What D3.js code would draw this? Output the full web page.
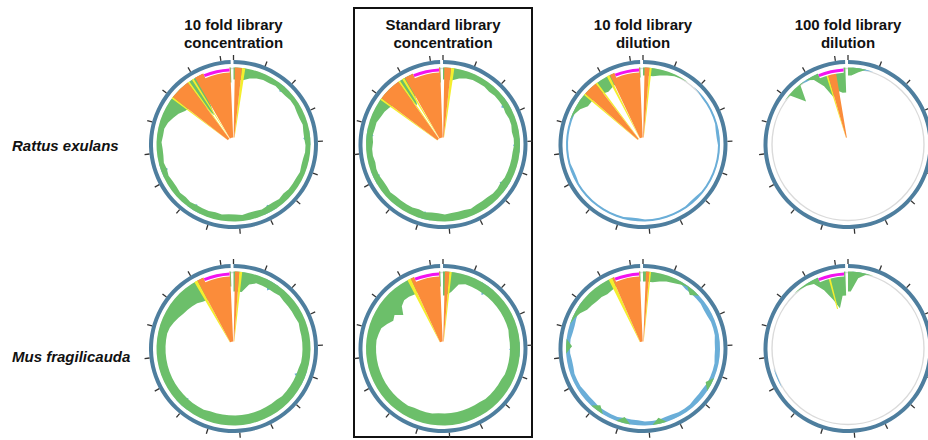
<!DOCTYPE html>
<html>
<head>
<meta charset="utf-8">
<script src="https://cdn.jsdelivr.net/npm/d3@7"></script>
<style>
body { margin: 0; background: #fff; }
svg { display: block; }
.title { font-family: "Liberation Sans", Arial, sans-serif; font-weight: bold; font-size: 15px; fill: #111; }
.species { font-family: "Liberation Sans", Arial, sans-serif; font-weight: bold; font-style: italic; font-size: 15px; fill: #111; }
</style>
</head>
<body>
<svg id="chart" width="928" height="440"></svg>
<script>
// genome is read as ~16.3 kb, coverage binned every 250 bp
const genomeLength = 16300;
const binSize = 250;
const tickPositions = [0,1000,2000,3000,4000,5000,6000,7000,8000,9000,10000,11000,12000,13000,14000,15000,16000];

const columnTitles = [["10 fold library","concentration"], ["Standard library","concentration"], ["10 fold library","dilution"], ["100 fold library","dilution"]];
const speciesNames = ["Rattus exulans", "Mus fragilicauda"];

// relative coverage depth per bin (0 = none, 70 = reaches centre)
const greenRat10c = [12,12,9,7,6,6,5,6,6,5, 5,6,6,5,6,6,5,5,6,6, 5,6,6,6,7,6,7,7,6,7, 7,6,7,7,6,7,6,6,6,5, 6,5,6,6,5,6,5,6,6,5, 6,6,8,11,14,18,20,20,20,42, 20,15,15,15,15];
const blueRat10c  = [0,0,0,0,0,0,0,7,0,0, 0,0,0,0,0,7,0,0,0,0, 0,0,0,0,0,0,0,8,0,0, 0,0,0,0,0,0,0,0,7,0, 0,0,0,0,0,7,0,0,0,0, 0,0,0,0,0,0,0,0,0,0, 0,0,0,0,0];
const greenRatStd = [12,12,9,7,6,6,6,7,6,6, 6,7,6,6,7,6,6,7,7,7, 7,7,8,7,7,8,8,8,7,8, 8,8,7,8,8,7,8,7,7,7, 7,6,7,7,6,6,7,6,6,7, 6,7,7,9,10,12,15,15,15,30, 15,15,15,15,15];
const blueRatStd  = [0,0,0,0,0,0,0,0,0,0, 8,0,0,0,0,0,7,0,0,0, 0,0,9,0,0,0,0,0,0,0, 0,0,0,0,0,8,0,0,0,0, 0,0,0,0,7,0,0,0,0,0, 7,0,0,0,0,0,0,0,0,0, 0,0,0,0,0];
const greenRat10d = [8,8,6,4,2,1,0,0,0,0, 0,0,0,0,0,0,0,0,0,0, 0,0,0,0,0,0,0,0,0,0, 0,0,0,0,0,0,0,0,0,0, 0,0,0,0,0,0,0,0,0,0, 0,0,0,2,5,10,10,10,12,14, 12,10,10,10,10];
const blueRat10d  = [0,0,0,0,0,0,0,0,1,2, 2,2,2,2,3,3,2,2,2,2, 2,2,2,2,3,3,2,2,2,2, 2,2,2,3,3,2,2,2,2,2, 2,2,2,2,3,3,2,2,2,2, 2,2,2,2,2,1,0,0,0,0, 0,0,0,0,0];
const greenRat100d = [8,4,0,0,0,0,0,0,0,0, 0,0,0,0,0,0,0,0,0,0, 0,0,0,0,0,0,0,0,0,0, 0,0,0,0,0,0,0,0,0,0, 0,0,0,0,0,0,0,0,0,0, 0,0,0,0,0,0,1,17,1,0, 4,14,28,22,25];
const blueRat100d  = [0,2,1,0,0,0,0,0,0,0, 0,0,0,0,0,0,0,0,0,0, 0,0,0,0,0,0,0,0,0,0, 0,0,0,0,0,0,0,0,0,0, 0,0,0,0,0,0,0,0,0,0, 0,0,0,0,0,0,0,0,0,2, 2,0,0,0,0];

const greenMus10c = [20,20,11,8,8,8,8,7,8,8, 8,8,7,8,8,8,8,8,8,9, 9,9,9,9,9,10,10,10,10,10, 10,10,10,10,10,10,10,9,9,9, 9,9,9,9,9,9,9,9,9,9, 9,9,10,12,14,16,17,18,19,21, 22,15,15,15,15];
const blueMus10c  = [0,0,0,0,0,10,0,0,0,0, 0,0,0,0,0,0,0,0,0,0, 11,0,0,0,0,0,0,0,0,0, 0,0,0,0,0,0,0,0,0,0, 10,0,0,0,0,0,0,0,0,0, 0,0,0,0,0,0,0,0,0,0, 0,0,0,0,0];
const greenMusStd = [24,20,11,9,9,9,9,9,9,9, 9,9,9,9,10,10,10,10,10,10, 10,11,11,11,11,11,12,12,12,12, 12,12,12,12,11,11,11,11,10,10, 10,10,10,10,10,10,10,10,10,10, 10,11,12,16,20,18,25,18,15,15, 16,15,15,15,15];
const blueMusStd  = [0,0,0,0,0,0,11,0,0,0, 0,0,0,0,0,0,11,0,0,0, 0,0,0,0,0,0,0,0,0,0, 0,0,0,0,0,0,0,0,0,0, 0,0,0,0,0,0,0,0,0,0, 0,0,0,0,0,0,0,0,0,0, 0,0,0,0,0];
const greenMus10d = [10,10,8,6,5,3,1,6,0,0, 0,0,0,0,0,0,0,0,0,0, 0,6,0,0,0,0,0,0,0,0, 6,0,0,0,0,6,0,0,0,6, 0,0,0,0,0,0,0,0,0,6, 0,0,0,2,5,9,10,11,11,12, 11,10,10,10,10];
const blueMus10d  = [0,0,0,0,0,2,4,4,4,4, 5,5,4,4,4,5,5,5,4,4, 4,4,5,5,5,4,4,4,5,5, 4,4,4,5,5,5,4,4,4,4, 5,5,5,4,4,4,5,5,4,4, 4,5,5,4,3,2,0,0,0,0, 0,0,0,0,0];
const greenMus100d = [20,6,1,0,0,0,0,0,0,0, 0,0,0,0,0,0,0,0,0,0, 0,0,0,0,0,0,0,0,0,0, 0,0,0,0,0,0,0,0,0,0, 0,0,0,0,0,0,0,0,0,0, 0,0,0,0,0,0,0,0,1,2, 4,14,26,36,24];
const blueMus100d  = [0,2,0,0,0,0,0,0,0,0, 0,0,0,0,0,0,0,0,0,0, 0,0,0,0,0,0,0,0,0,0, 0,0,0,0,0,0,0,0,0,0, 0,0,0,0,1,1,0,0,0,0, 0,0,0,0,0,0,0,0,0,0, 2,0,0,0,0];

// saturated regions [start bp, end bp, depth]
const orangeRat10c = [[46,287,70],[14023,14729,70],[15025,16277,70]];
const yellowRat10c = [[287,401,70],[13960,14023,70],[14729,14797,70],[14902,14970,70]];
const orangeRatStd = [[46,273,70],[13978,14774,70],[15038,16290,70]];
const yellowRatStd = [[273,387,70],[13909,13978,70],[14774,14843,70],[14934,15011,70]];
const orangeRat10d = [[55,219,70],[14178,14661,70],[15234,16277,70]];
const yellowRat10d = [[219,296,70],[14114,14178,70],[14661,14729,70],[15116,15207,70]];
const orangeRat100d = [[15662,15958,70]];
const yellowRat100d = [[15594,15662,70]];
const orangeMus10c = [[50,196,70],[15116,16272,70]];
const yellowMus10c = [[196,296,70],[15002,15116,70]];
const orangeMusStd = [[68,214,70],[15266,16277,70]];
const yellowMusStd = [[214,296,70],[15139,15266,70]];
const orangeMus10d = [[100,214,70],[15321,16277,70]];
const yellowMus10d = [[214,273,70],[15184,15321,70]];
const orangeMus100d = [];
const yellowMus100d = [[15685,15753,36]];

// annotated region (magenta arc)
const regionRat = [[15344,16254],[15344,16254],[15400,16254],[15344,16236]];
const regionMus = [[15344,16254],[15390,16254],[15390,16254],[15344,16254]];

const colCenters = [233.5, 443, 643, 848];
const rowCenters = [144.5, 348.5];

const panels = [
	{row:0, col:0, green:greenRat10c, blue:blueRat10c, orange:orangeRat10c, yellow:yellowRat10c, region:regionRat[0]},
	{row:0, col:1, green:greenRatStd, blue:blueRatStd, orange:orangeRatStd, yellow:yellowRatStd, region:regionRat[1]},
	{row:0, col:2, green:greenRat10d, blue:blueRat10d, orange:orangeRat10d, yellow:yellowRat10d, region:regionRat[2]},
	{row:0, col:3, green:greenRat100d, blue:blueRat100d, orange:orangeRat100d, yellow:yellowRat100d, region:regionRat[3]},
	{row:1, col:0, green:greenMus10c, blue:blueMus10c, orange:orangeMus10c, yellow:yellowMus10c, region:regionMus[0]},
	{row:1, col:1, green:greenMusStd, blue:blueMusStd, orange:orangeMusStd, yellow:yellowMusStd, region:regionMus[1]},
	{row:1, col:2, green:greenMus10d, blue:blueMus10d, orange:orangeMus10d, yellow:yellowMus10d, region:regionMus[2]},
	{row:1, col:3, green:greenMus100d, blue:blueMus100d, orange:orangeMus100d, yellow:yellowMus100d, region:regionMus[3]}
];

const svg = d3.select("#chart");

const baseR = 77;
const angle = d3.scaleLinear().domain([0, genomeLength]).range([0, 2*Math.PI*358/360]);
const radius = d3.scaleLinear().domain([0, 70]).range([baseR, 7]);

//box round the standard library column
svg.append("rect")
	.attr("x", 354).attr("y", 8)
	.attr("width", 178).attr("height", 429)
	.attr("fill", "none")
	.attr("stroke", "#111")
	.attr("stroke-width", 2);

//column titles
columnTitles.forEach((lines, c) => {
	lines.forEach((t, k) => {
		svg.append("text")
			.attr("class", "title")
			.attr("x", colCenters[c])
			.attr("y", 30 + 18*k)
			.attr("text-anchor", "middle")
			.text(t);
	});
});

//species labels
svg.selectAll(".species")
	.data(speciesNames)
	.enter()
	.append("text")
	.attr("class", "species")
	.attr("x", 12)
	.attr("y", (d,i) => i == 0 ? 151 : 362)
	.text(d => d);

function binPoints(values)
{
	let pts = values.map((v,i) => ({pos: Math.min((i+0.5)*binSize, genomeLength), v: v}));
	pts.unshift({pos: 0, v: values[0]});
	pts.push({pos: genomeLength, v: values[values.length-1]});
	return pts;
}

const area = d3.areaRadial()
	.angle(d => angle(d.pos))
	.innerRadius(d => radius(d.v))
	.outerRadius(baseR)
	.curve(d3.curveLinear);

const wedge = d3.arc()
	.startAngle(d => angle(d[0]))
	.endAngle(d => angle(d[1]))
	.innerRadius(d => radius(d[2]))
	.outerRadius(baseR);

function drawPanel(p)
{
	let g = svg.append("g")
		.attr("transform", "translate(" + colCenters[p.col] + "," + rowCenters[p.row] + ")");

	//baseline of the track
	g.append("circle")
		.attr("r", baseR - 1)
		.attr("fill", "none")
		.attr("stroke", "#dadada")
		.attr("stroke-width", 1.4);

	//blue track sits behind the green one
	g.append("path")
		.attr("d", area(binPoints(p.blue)))
		.attr("fill", "#6aaed8");

	g.append("path")
		.attr("d", area(binPoints(p.green)))
		.attr("fill", "#6cbf6a");

	g.selectAll(".yellow")
		.data(p.yellow)
		.enter()
		.append("path")
		.attr("class", "yellow")
		.attr("d", wedge)
		.attr("fill", "#f4ee2e");

	g.selectAll(".orange")
		.data(p.orange)
		.enter()
		.append("path")
		.attr("class", "orange")
		.attr("d", wedge)
		.attr("fill", "#fb8c3a");

	//magenta region, with a white rim
	let reg = d3.arc()
		.startAngle(angle(p.region[0]))
		.endAngle(angle(p.region[1]));
	g.append("path")
		.attr("d", reg.innerRadius(72).outerRadius(78)())
		.attr("fill", "#fff");
	g.append("path")
		.attr("d", reg.innerRadius(73.2).outerRadius(76.2)())
		.attr("fill", "#f312f0");

	//outer ring
	g.append("path")
		.attr("d", d3.arc().innerRadius(80.5).outerRadius(84.5).startAngle(angle(0)).endAngle(angle(genomeLength))())
		.attr("fill", "#4e7e9e");

	//ticks
	g.selectAll(".tick")
		.data(tickPositions)
		.enter()
		.append("line")
		.attr("class", "tick")
		.attr("x1", d => 84.5*Math.sin(angle(d)))
		.attr("y1", d => -84.5*Math.cos(angle(d)))
		.attr("x2", d => 89.5*Math.sin(angle(d)))
		.attr("y2", d => -89.5*Math.cos(angle(d)))
		.attr("stroke", "#333")
		.attr("stroke-width", 1.3);
}

panels.forEach(drawPanel);
</script>
</body>
</html>
